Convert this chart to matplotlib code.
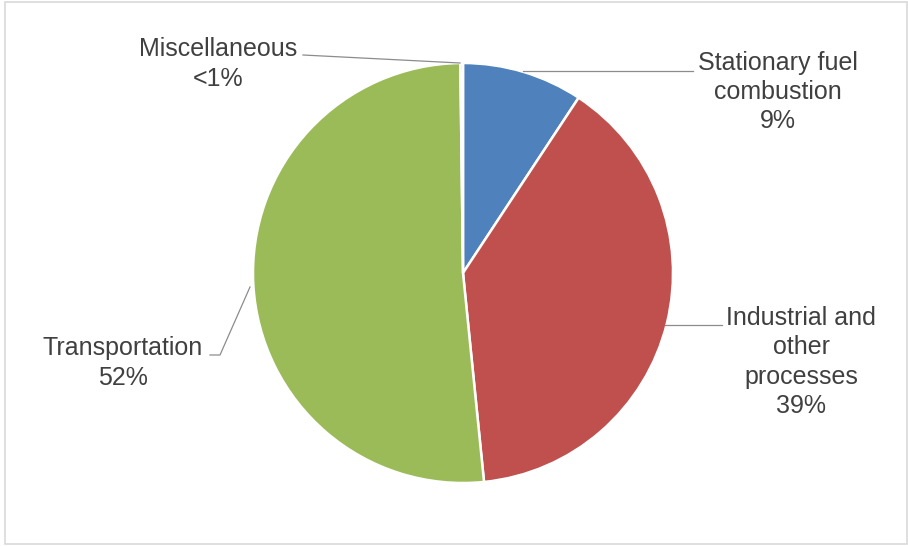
import matplotlib
matplotlib.use("Agg")
import matplotlib.pyplot as plt
from matplotlib.patches import Rectangle

# Emission shares by source category (percent)
categories = ["Stationary fuel\ncombustion", "Industrial and\nother\nprocesses",
              "Transportation", "Miscellaneous"]
shares = [9.3, 39.2, 51.5, 0.2]
share_labels = ["9%", "39%", "52%", "<1%"]
colors = ["#4F81BD", "#C0504D", "#9BBB59", "#8064A2"]

W, H = 908, 546
fig = plt.figure(figsize=(W / 100, H / 100), dpi=100)
ax = fig.add_axes([0, 0, 1, 1])


def py(y):
    # convert a top-down pixel row to the upward data axis
    return H - y


cx, cy, r = 463, py(273), 210
ax.pie(shares, colors=colors, startangle=90, counterclock=False,
       center=(cx, cy), radius=r, frame=True,
       wedgeprops=dict(edgecolor="white", linewidth=1.8))
ax.set_xlim(0, W)
ax.set_ylim(0, H)
ax.set_aspect("equal")
ax.axis("off")

# chart area border
ax.add_patch(Rectangle((5, py(544)), 902, 542, fill=False,
                       edgecolor="#d9d9d9", linewidth=1.2, zorder=0))

txt = dict(fontsize=18, color="#404040", ha="center", va="center",
           family=["Liberation Sans", "DejaVu Sans"], linespacing=1.27)
lead = dict(color="#8c8c8c", linewidth=0.9)

# Stationary fuel combustion
ax.text(778, py(92), f"{categories[0]}\n{share_labels[0]}", **txt)
ax.plot([523, 693], [py(71), py(71)], **lead)

# Industrial and other processes
ax.text(801, py(362), f"{categories[1]}\n{share_labels[1]}", **txt)
ax.plot([665, 722], [py(325), py(325)], **lead)

# Transportation
ax.text(123, py(363), f"{categories[2]}\n{share_labels[2]}", **txt)
ax.plot([210, 220, 250], [py(355), py(355), py(287)], **lead)

# Miscellaneous
ax.text(218, py(64), f"{categories[3]}\n{share_labels[3]}", **txt)
ax.plot([303, 460], [py(55), py(63)], **lead)

fig.savefig("out.png", dpi=100)
